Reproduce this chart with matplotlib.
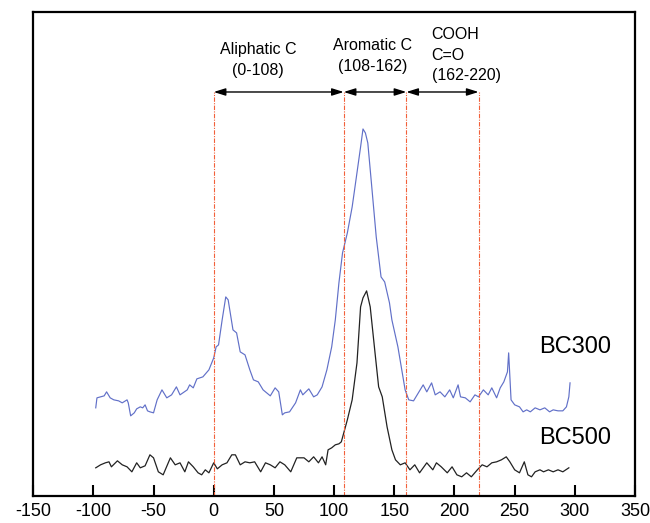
import matplotlib.pyplot as plt

plt.rcParams['font.family'] = ['Liberation Sans', 'DejaVu Sans']
plt.rcParams['axes.unicode_minus'] = False

# chemical shift (ppm) and intensity (arbitrary units)
bc300_shift = [-98, -97, -94, -91, -89, -86, -83, -79, -76, -72, -71, -69, -66, -64, -61, -59, -57, -55, -53, -50,
               -47, -43, -39, -35, -31, -28, -22, -20, -17, -14, -9, -4, 0, 2, 4, 7, 10, 12, 16, 19,
               22, 26, 30, 33, 37, 41, 47, 51, 54, 57, 59, 63, 68, 72, 74, 79, 83, 86, 90, 94,
               98, 101, 104, 107, 111, 115, 117, 122, 124, 126, 128, 131, 135, 139, 142, 146, 148, 153, 159, 162,
               166, 170, 174, 177, 181, 184, 188, 192, 196, 199, 203, 205, 209, 213, 217, 220, 224, 228, 231, 235,
               238, 241, 244, 245, 247, 250, 254, 257, 260, 263, 267, 271, 275, 279, 282, 286, 290, 293, 295, 296]
bc300_int = [88, 98, 99, 100, 104, 98, 96, 95, 93, 96, 93, 80, 83, 87, 89, 88, 91, 85, 84, 83,
             96, 106, 98, 101, 109, 101, 106, 111, 108, 117, 119, 126, 138, 149, 151, 176, 199, 196, 166, 163,
             144, 141, 126, 116, 114, 106, 100, 108, 104, 81, 83, 84, 93, 106, 101, 107, 99, 101, 109, 126,
             149, 176, 213, 243, 263, 289, 306, 349, 367, 363, 353, 313, 259, 219, 214, 193, 176, 149, 106, 96,
             95, 103, 111, 104, 113, 101, 104, 99, 106, 98, 111, 99, 98, 94, 101, 99, 106, 101, 108, 98,
             108, 114, 124, 143, 96, 91, 89, 84, 86, 84, 88, 86, 88, 84, 86, 85, 85, 89, 99, 113]

bc500_shift = [-98, -94, -90, -87, -85, -80, -76, -72, -68, -64, -61, -57, -53, -50, -46, -42, -36, -32, -28, -24,
               -21, -17, -13, -10, -7, -4, 0, 3, 7, 11, 15, 18, 22, 26, 30, 34, 39, 43, 47, 51,
               55, 59, 64, 69, 75, 79, 83, 87, 90, 93, 95, 98, 101, 104, 106, 111, 115, 119, 122, 124,
               127, 130, 134, 137, 140, 144, 148, 151, 155, 159, 163, 167, 171, 177, 182, 185, 189, 194, 198, 202,
               206, 210, 214, 219, 223, 227, 231, 235, 239, 243, 246, 250, 254, 258, 261, 264, 267, 271, 274, 278,
               282, 286, 290, 295]
bc500_int = [28, 31, 33, 34, 29, 35, 31, 29, 24, 33, 28, 30, 41, 38, 24, 21, 38, 31, 33, 24,
             34, 29, 23, 21, 26, 23, 33, 27, 31, 33, 41, 41, 31, 34, 33, 34, 24, 33, 31, 28,
             34, 31, 24, 38, 38, 34, 39, 33, 39, 31, 46, 48, 51, 52, 54, 76, 96, 133, 189, 198,
             205, 189, 143, 109, 99, 69, 46, 36, 31, 33, 26, 31, 23, 33, 26, 33, 29, 23, 29, 21,
             19, 23, 19, 26, 31, 29, 33, 34, 36, 39, 34, 26, 23, 34, 21, 19, 24, 26, 24, 26,
             24, 26, 24, 28]

region_bounds = [0, 108, 160, 220]
region_labels = ['Aliphatic C\n(0-108)', 'Aromatic C\n(108-162)', 'COOH\nC=O\n(162-220)']

fig = plt.figure(figsize=(6.5, 5.23), dpi=100)
ax = fig.add_axes([0.051, 0.052, 0.926, 0.925])

ax.plot(bc300_shift, bc300_int, color='#6170c8', lw=0.85)
ax.plot(bc500_shift, bc500_int, color='#222222', lw=0.9)

arrow_y = 404
for xb in region_bounds:
    ax.plot([xb, xb], [0, arrow_y], color='#f2603a', lw=0.8, ls=(0, (4, 1.2, 1, 1.2)))
for a, b in zip(region_bounds[:-1], region_bounds[1:]):
    ax.annotate('', xy=(b, arrow_y), xytext=(a, arrow_y),
                arrowprops=dict(arrowstyle='<|-|>,head_length=0.7,head_width=0.22', color='black', lw=1.0,
                                shrinkA=0, shrinkB=0))

ax.text(37, 436, region_labels[0], ha='center', va='center', fontsize=11.5, linespacing=1.42)
ax.text(132, 440, region_labels[1], ha='center', va='center', fontsize=11.5, linespacing=1.42)
ax.text(181, 441, region_labels[2], ha='left', va='center', fontsize=11.5, linespacing=1.42)

ax.text(270, 149, 'BC300', ha='left', va='center', fontsize=17)
ax.text(270, 58, 'BC500', ha='left', va='center', fontsize=17)

ax.set_xlim(-150, 350)
ax.set_ylim(0, 484)
ax.set_xticks(range(-150, 351, 50))
ax.set_yticks([])
ax.tick_params(axis='x', direction='in', length=8, width=1.5, labelsize=13, pad=5)
for s in ax.spines.values():
    s.set_linewidth(1.6)

fig.savefig('out.png', dpi=100)
